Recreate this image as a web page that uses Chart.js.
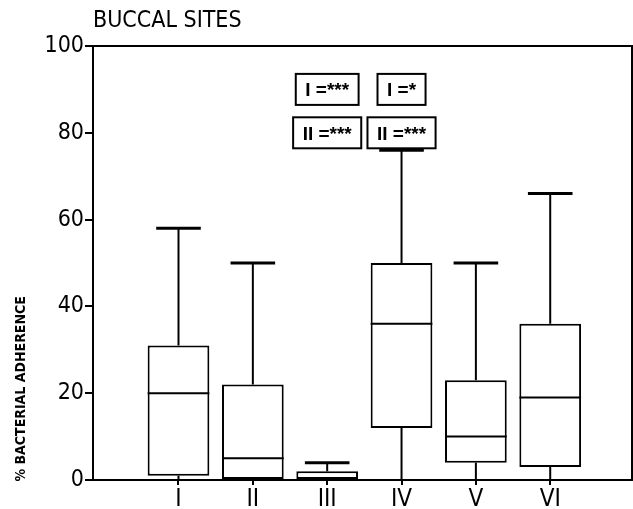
<!DOCTYPE html>
<html>
<head>
<meta charset="utf-8">
<script src="https://cdn.jsdelivr.net/npm/chart.js@4.4.0/dist/chart.umd.min.js"></script>
<style>
  html, body { margin: 0; padding: 0; background: #fff; }
</style>
</head>
<body>
<canvas id="myChart" width="633" height="509"></canvas>
<script>
// 데이터
var categories = ['I', 'II', 'III', 'IV', 'V', 'VI'];
var whiskerLow = [0, 0, 0, 0, 0, 0];
var boxLow = [1, 0, 0, 12, 4, 3];
var medians = [20, 5, 0, 36, 10, 19];
var boxHigh = [31, 22, 2, 50, 23, 36];
var whiskerHigh = [58, 50, 4, 76, 50, 66];
var yTicks = [0, 20, 40, 60, 80, 100];
// 유의성 표시 상자
var noteTexts = ['I =***', 'I =*', 'II =***', 'II =***'];
var noteGroups = [3, 4, 3, 4];
var noteLevels = [90, 90, 80, 80];
var chartTitle = 'BUCCAL SITES';
var yTitle = '% BACTERIAL ADHERENCE';

var fam = "'Liberation Sans Narrow', 'DejaVu Sans Condensed', sans-serif";

var boxPlugin = {
  id: 'boxPlugin',
  afterDatasetsDraw: function(chart) {
    var c = chart.ctx;
    var xs = chart.scales.x, ys = chart.scales.y, a = chart.chartArea;
    var bars = chart.getDatasetMeta(0).data;
    c.save();
    c.strokeStyle = '#000';
    c.lineCap = 'butt';
    categories.forEach(function(cat, i) {
      var cx = xs.getPixelForValue(i + 1);
      var capHalf = xs.getPixelForValue(i + 1.3) - cx;
      var boxHalf = bars[i].width / 2;
      c.lineWidth = 2;
      // 위쪽 수염
      c.beginPath();
      c.moveTo(cx, ys.getPixelForValue(boxHigh[i]));
      c.lineTo(cx, ys.getPixelForValue(whiskerHigh[i]));
      c.stroke();
      // 아래쪽 수염
      c.beginPath();
      c.moveTo(cx, ys.getPixelForValue(boxLow[i]));
      c.lineTo(cx, ys.getPixelForValue(whiskerLow[i]));
      c.stroke();
      // 중앙값
      c.beginPath();
      c.moveTo(cx - boxHalf, ys.getPixelForValue(medians[i]));
      c.lineTo(cx + boxHalf, ys.getPixelForValue(medians[i]));
      c.stroke();
      // 캡
      c.lineWidth = 3;
      c.beginPath();
      c.moveTo(cx - capHalf, ys.getPixelForValue(whiskerHigh[i]));
      c.lineTo(cx + capHalf, ys.getPixelForValue(whiskerHigh[i]));
      c.stroke();
    });
    // 테두리
    c.lineWidth = 2;
    c.strokeRect(a.left, a.top, a.right - a.left, a.bottom - a.top);

    // 제목
    c.fillStyle = '#000';
    c.font = '23px ' + fam;
    c.textAlign = 'left';
    c.textBaseline = 'alphabetic';
    c.fillText(chartTitle, a.left, 27);

    // y축 제목
    c.save();
    c.translate(21, ys.getPixelForValue(21));
    c.rotate(-Math.PI / 2);
    c.font = 'bold 14px ' + fam;
    c.textAlign = 'center';
    c.textBaseline = 'middle';
    c.fillText(yTitle, 0, 0);
    c.restore();

    // 유의성 상자
    noteTexts.forEach(function(t, i) {
      c.font = 'bold 19px "Liberation Sans", Arial, sans-serif';
      var cx = xs.getPixelForValue(noteGroups[i]);
      var cy = ys.getPixelForValue(noteLevels[i]);
      var w = c.measureText(t).width + 19;
      var h = 31;
      c.fillStyle = '#fff';
      c.fillRect(cx - w / 2, cy - h / 2, w, h);
      c.lineWidth = 2;
      c.strokeRect(cx - w / 2, cy - h / 2, w, h);
      c.fillStyle = '#000';
      c.textAlign = 'center';
      c.textBaseline = 'alphabetic';
      c.fillText(t, cx, cy + 7);
    });
    c.restore();
  }
};

var ctx = document.getElementById('myChart').getContext('2d');
var boxData = categories.map(function(c, i) { return { x: i + 1, y: [boxLow[i], boxHigh[i]] }; });

var myChart = new Chart(ctx, {
  type: 'bar',
  data: {
    datasets: [{
      data: boxData,
      backgroundColor: '#fff',
      borderColor: '#000',
      borderWidth: 2,
      borderSkipped: false,
      barPercentage: 0.83,
      categoryPercentage: 1
    }]
  },
  options: {
    responsive: false,
    animation: false,
    layout: { padding: { top: 46, right: 1, left: 0, bottom: 0 } },
    plugins: { legend: { display: false }, tooltip: { enabled: false }, title: { display: false } },
    scales: {
      x: {
        type: 'linear',
        offset: false,
        min: -0.15,
        max: 7.1,
        afterBuildTicks: function(s) { s.ticks = categories.map(function(c, i) { return { value: i + 1 }; }); },
        afterFit: function(s) { s.height = 29; },
        ticks: {
          callback: function(v) { return categories[v - 1] || ''; },
          font: { family: fam, size: 24 },
          color: '#000',
          padding: 0,
          autoSkip: false,
          maxRotation: 0
        },
        grid: { offset: false, drawOnChartArea: false, tickLength: 5, color: '#000', lineWidth: 2 },
        border: { display: false }
      },
      y: {
        min: 0,
        max: 100,
        afterBuildTicks: function(s) { s.ticks = yTicks.map(function(v) { return { value: v }; }); },
        afterFit: function(s) { s.width = 93; },
        ticks: { font: { family: fam, size: 23 }, color: '#000', padding: 1 },
        grid: { drawOnChartArea: false, tickLength: 8, color: '#000', lineWidth: 2 },
        border: { display: false }
      }
    }
  },
  plugins: [boxPlugin]
});
</script>
</body>
</html>
